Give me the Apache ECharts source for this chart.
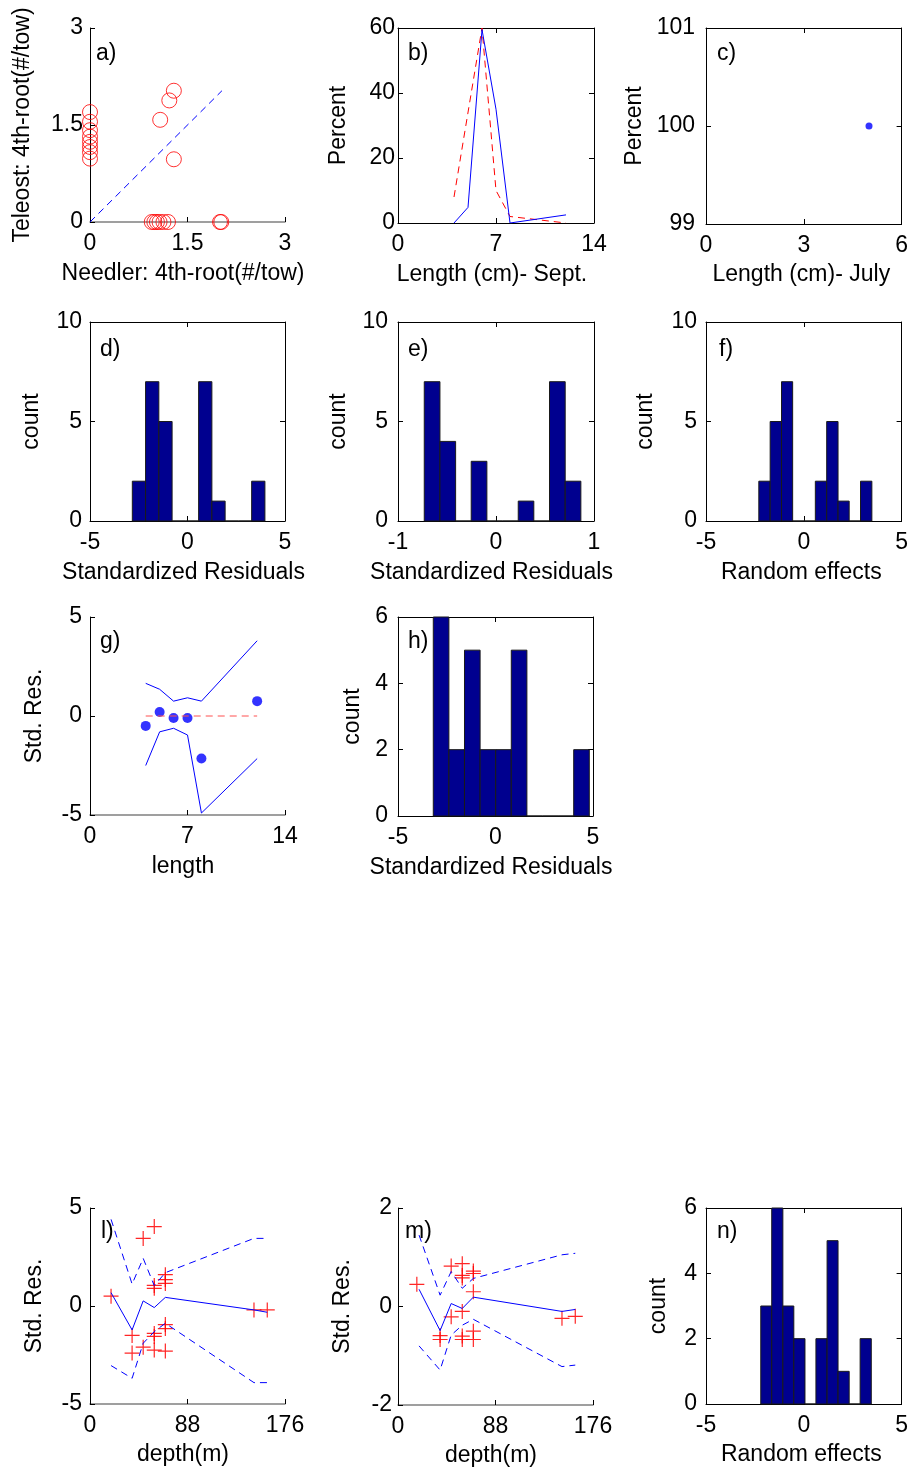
<!DOCTYPE html>
<html>
<head>
<meta charset="utf-8">
<script src="https://cdn.jsdelivr.net/npm/echarts@6/dist/echarts.min.js"></script>
<style>
  html, body { margin: 0; padding: 0; background: #fff; }
  #chart { width: 911px; height: 1470px; }
</style>
</head>
<body>
<div id="chart"></div>
<script>
// ---------- a) needler vs teleost abundance (4th-root of catch per tow) ----------
const aNeedler = [0, 0, 0, 0, 0, 0, 0, 0, 1.08, 1.22, 1.29, 1.29, 0.95, 0.99, 1.03, 1.07, 1.13, 1.2, 2.0, 2.02];
const aTeleost = [1.7, 1.55, 1.42, 1.32, 1.24, 1.16, 1.08, 0.98, 1.58, 1.88, 2.03, 0.97, 0, 0, 0, 0, 0, 0, 0, 0];
const aOneToOne = [0, 2.03];

// ---------- b) length frequency, September ----------
const bLenBlue = [4, 5, 6, 7, 8, 12];
const bPctBlue = [0, 4.8, 59.5, 35, 0, 2.5];
const bLenRed = [4, 6, 7, 8, 12];
const bPctRed = [8, 60, 10, 2, 0];

// ---------- c) length frequency, July ----------
const cLen = [5];
const cPct = [100];

// ---------- d, e, f, h, n) histograms: bin edges and counts ----------
const dEdges = [-2.83, -2.15, -1.47, -0.79, -0.11, 0.57, 1.25, 1.93, 2.61, 3.29, 3.97];
const dCounts = [2, 7, 5, 0, 0, 7, 1, 0, 0, 2];
const eEdges = [-0.732, -0.572, -0.412, -0.253, -0.093, 0.067, 0.227, 0.386, 0.546, 0.706, 0.866];
const eCounts = [7, 4, 0, 3, 0, 0, 1, 0, 7, 2];
const fEdges = [-2.30, -1.72, -1.14, -0.57, 0.01, 0.59, 1.17, 1.75, 2.32, 2.90, 3.48];
const fCounts = [2, 5, 7, 0, 0, 2, 5, 1, 0, 2];
const hEdges = [-3.19, -2.39, -1.59, -0.79, 0.01, 0.81, 1.61, 2.41, 3.21, 4.01, 4.81];
const hCounts = [6, 2, 5, 2, 2, 5, 0, 0, 0, 2];
const nEdges = [-2.20, -1.64, -1.07, -0.51, 0.06, 0.62, 1.19, 1.75, 2.32, 2.88, 3.45];
const nCounts = [3, 6, 3, 2, 0, 2, 5, 1, 0, 2];

// ---------- g) standardized residuals by length ----------
const gLen = [4, 5, 6, 7, 8, 12];
const gRes = [-0.5, 0.2, -0.1, -0.1, -2.15, 0.75];
const gUpper = [1.65, 1.35, 0.75, 0.92, 0.75, 3.8];
const gLower = [-2.5, -0.8, -0.62, -0.96, -4.9, -2.15];
const gZeroLen = [4, 12];

// ---------- l, m) standardized residuals by depth ----------
const depthLine = [19, 38, 48, 58, 68, 148, 160];
const lMid = [0.68, -1.22, 0.26, -0.08, 0.44, -0.2, -0.32];
const lUpper = [4.42, 1.12, 2.43, 1.04, 1.7, 3.45, 3.45];
const lLower = [-3.04, -3.69, -1.9, -1.31, -0.88, -3.91, -3.91];
const lDepth = [19, 38, 38, 48, 48, 58, 58, 58, 58, 58, 58, 68, 68, 68, 68, 68, 68, 148, 160];
const lRes = [0.5, -1.5, -2.4, 3.45, -2.1, 4.05, 1.05, 0.9, -1.4, -1.55, -2.25, 1.6, 1.35, 1.15, -0.95, -1.15, -2.3, -0.2, -0.2];

const mMid = [0.35, -0.49, 0.06, -0.04, 0.19, -0.1, -0.06];
const mUpper = [1.45, 0.23, 0.71, 0.37, 0.57, 1.05, 1.08];
const mLower = [-0.8, -1.29, -0.58, -0.38, -0.26, -1.22, -1.19];
const mDepth = [17, 38, 38, 48, 48, 58, 58, 58, 58, 58, 58, 68, 68, 68, 68, 68, 148, 160];
const mRes = [0.45, -0.59, -0.67, 0.82, -0.21, 0.87, 0.63, 0.58, -0.1, -0.6, -0.67, 0.72, 0.67, 0.3, -0.5, -0.67, -0.24, -0.2];

// ---------- styling ----------
const FONT = '"Liberation Sans", Arial, Helvetica, sans-serif';
const FS = 23;
const BLUE = '#0000ff';
const RED = '#ff0000';
const NAVY = '#00008f';
const PLUS = 'path://M5,0L5,10M0,5L10,5';

const option = {
  animation: false,
  backgroundColor: '#ffffff',
  grid: [], xAxis: [], yAxis: [], series: [], graphic: []
};

const textStyle = { color: '#000', fontSize: FS, fontFamily: FONT };

function addPanel(p) {
  const gi = option.grid.length;
  option.grid.push({ left: p.box[0], top: p.box[1], width: p.box[2], height: p.box[3], show: false });
  const xi = option.xAxis.length;
  const yi = option.yAxis.length;
  const bottomLine = p.boxed ? { color: '#000', width: 1 } : { color: '#808080', width: 1.5 };
  option.xAxis.push({
    gridIndex: gi, type: 'value', position: 'bottom',
    min: p.x[0], max: p.x[1], interval: p.x[2],
    axisLine: { show: true, onZero: false, lineStyle: bottomLine },
    axisTick: { show: true, inside: true, length: 5, lineStyle: { color: '#000' } },
    axisLabel: Object.assign({ show: true, margin: 10 }, textStyle),
    splitLine: { show: false },
    name: p.xName, nameLocation: 'middle', nameGap: p.xGap, nameMoveOverlap: false,
    nameTextStyle: Object.assign({ padding: [0, p.xShift || 7, 0, 0] }, textStyle)
  });
  option.yAxis.push({
    gridIndex: gi, type: 'value', position: 'left',
    min: p.y[0], max: p.y[1], interval: p.y[2],
    axisLine: { show: true, onZero: false, lineStyle: { color: '#000', width: 1 } },
    axisTick: { show: true, inside: true, length: 5, lineStyle: { color: '#000' } },
    axisLabel: Object.assign({ show: true, margin: p.yMargin }, textStyle),
    splitLine: { show: false },
    name: p.yName, nameLocation: 'middle', nameGap: p.yGap, nameRotate: 90, nameMoveOverlap: false,
    nameTextStyle: textStyle
  });
  if (p.boxed) {
    option.xAxis.push({
      gridIndex: gi, type: 'value', position: 'top',
      min: p.x[0], max: p.x[1], interval: p.x[2],
      axisLine: { show: true, onZero: false, lineStyle: { color: '#000', width: 1 } },
      axisTick: { show: true, inside: true, length: 5, lineStyle: { color: '#000' } },
      axisLabel: { show: false }, splitLine: { show: false }
    });
    option.yAxis.push({
      gridIndex: gi, type: 'value', position: 'right',
      min: p.y[0], max: p.y[1], interval: p.y[2],
      axisLine: { show: true, onZero: false, lineStyle: { color: '#000', width: 1 } },
      axisTick: { show: true, inside: true, length: 5, lineStyle: { color: '#000' } },
      axisLabel: { show: false }, splitLine: { show: false }
    });
  }
  option.graphic.push({
    type: 'text', x: p.tag[1], y: p.tag[2], z: 100,
    style: { text: p.tag[0], fontSize: FS, fontFamily: FONT, fill: '#000', verticalAlign: 'middle' }
  });
  return { xi, yi };
}

function zip(xs, ys) { return xs.map((x, i) => [x, ys[i]]); }

function lineSeries(ax, xs, ys, color, dashed, width) {
  return {
    type: 'line', xAxisIndex: ax.xi, yAxisIndex: ax.yi, data: zip(xs, ys),
    showSymbol: false, symbol: 'none', silent: true,
    lineStyle: { color: color, width: width || 1, type: dashed ? [7, 5] : 'solid' }
  };
}

function histSeries(ax, edges, counts) {
  return {
    type: 'custom', xAxisIndex: ax.xi, yAxisIndex: ax.yi, silent: true,
    data: counts.map((c, i) => [edges[i], edges[i + 1], c]),
    encode: { x: [0, 1], y: 2 },
    renderItem: function (params, api) {
      const top = api.coord([api.value(0), api.value(2)]);
      const base = api.coord([api.value(1), 0]);
      return {
        type: 'rect',
        shape: { x: top[0], y: top[1], width: base[0] - top[0], height: base[1] - top[1] },
        style: { fill: NAVY, stroke: '#1a1a1a', lineWidth: 1 }
      };
    }
  };
}

// ---- a) ----
const pa = addPanel({
  box: [90, 28, 195, 194], boxed: false, x: [0, 3, 1.5], y: [0, 3, 1.5],
  xName: 'Needler: 4th-root(#/tow)', xGap: 40, xShift: 9,
  yName: 'Teleost: 4th-root(#/tow)', yGap: 56, yMargin: 7, tag: ['a)', 96, 54]
});
option.series.push(lineSeries(pa, aOneToOne, aOneToOne, BLUE, true));
option.series.push({
  type: 'scatter', xAxisIndex: pa.xi, yAxisIndex: pa.yi, data: zip(aNeedler, aTeleost),
  symbol: 'circle', symbolSize: 15, silent: true,
  itemStyle: { color: 'rgba(0,0,0,0)', borderColor: RED, borderWidth: 1 }
});

// ---- b) ----
const pb = addPanel({
  box: [398, 28, 196, 195], boxed: true, x: [0, 14, 7], y: [0, 60, 20],
  xName: 'Length (cm)- Sept.', xGap: 40, xShift: 8,
  yName: 'Percent', yGap: 48, yMargin: 3, tag: ['b)', 408, 54]
});
option.series.push(lineSeries(pb, bLenRed, bPctRed, RED, true));
option.series.push(lineSeries(pb, bLenBlue, bPctBlue, BLUE, false));

// ---- c) ----
const pc = addPanel({
  box: [706, 28, 197, 196], boxed: true, x: [0, 6, 3], y: [99, 101, 1],
  xName: 'Length (cm)- July', xGap: 39, xShift: 5,
  yName: 'Percent', yGap: 60, yMargin: 11, tag: ['c)', 717, 54]
});
option.series.push({
  type: 'scatter', xAxisIndex: pc.xi, yAxisIndex: pc.yi, data: zip(cLen, cPct),
  symbol: 'circle', symbolSize: 7, silent: true, itemStyle: { color: BLUE }
});

// ---- d) ----
const pd = addPanel({
  box: [90, 322, 195, 199], boxed: true, x: [-5, 5, 5], y: [0, 10, 5],
  xName: 'Standardized Residuals', xGap: 40, xShift: 8,
  yName: 'count', yGap: 47, yMargin: 8, tag: ['d)', 100, 350]
});
option.series.push(histSeries(pd, dEdges, dCounts));

// ---- e) ----
const pe = addPanel({
  box: [398, 322, 196, 199], boxed: true, x: [-1, 1, 1], y: [0, 10, 5],
  xName: 'Standardized Residuals', xGap: 40, xShift: 9,
  yName: 'count', yGap: 48, yMargin: 10, tag: ['e)', 408, 350]
});
option.series.push(histSeries(pe, eEdges, eCounts));

// ---- f) ----
const pf = addPanel({
  box: [706, 322, 197, 199], boxed: true, x: [-5, 5, 5], y: [0, 10, 5],
  xName: 'Random effects', xGap: 40, xShift: 5,
  yName: 'count', yGap: 49, yMargin: 9, tag: ['f)', 719, 350]
});
option.series.push(histSeries(pf, fEdges, fCounts));

// ---- g) ----
const pg = addPanel({
  box: [90, 617, 195, 198], boxed: false, x: [0, 14, 7], y: [-5, 5, 5],
  xName: 'length', xGap: 40, xShift: 9,
  yName: 'Std. Res.', yGap: 44, yMargin: 8, tag: ['g)', 100, 642]
});
option.series.push(lineSeries(pg, gLen, gUpper, BLUE, false));
option.series.push(lineSeries(pg, gLen, gLower, BLUE, false));
option.series.push(lineSeries(pg, gZeroLen, [0, 0], '#ff5050', true));
option.series.push({
  type: 'scatter', xAxisIndex: pg.xi, yAxisIndex: pg.yi, data: zip(gLen, gRes),
  symbol: 'circle', symbolSize: 10, silent: true, itemStyle: { color: BLUE }
});

// ---- h) ----
const ph = addPanel({
  box: [398, 617, 195, 199], boxed: true, x: [-5, 5, 5], y: [0, 6, 2],
  xName: 'Standardized Residuals', xGap: 40, xShift: 9,
  yName: 'count', yGap: 34, yMargin: 10, tag: ['h)', 408, 642]
});
option.series.push(histSeries(ph, hEdges, hCounts));

// ---- l) ----
const pl = addPanel({
  box: [90, 1208, 195, 196], boxed: false, x: [0, 176, 88], y: [-5, 5, 5],
  xName: 'depth(m)', xGap: 39, xShift: 9,
  yName: 'Std. Res.', yGap: 44, yMargin: 8, tag: ['l)', 101, 1232]
});
option.series.push(lineSeries(pl, depthLine, lUpper, BLUE, true));
option.series.push(lineSeries(pl, depthLine, lLower, BLUE, true));
option.series.push(lineSeries(pl, depthLine, lMid, BLUE, false));
option.series.push({
  type: 'scatter', xAxisIndex: pl.xi, yAxisIndex: pl.yi, data: zip(lDepth, lRes),
  symbol: PLUS, symbolSize: 15, silent: true,
  itemStyle: { color: 'rgba(0,0,0,0)', borderColor: RED, borderWidth: 1.2, opacity: 0.85 }
});

// ---- m) ----
const pm = addPanel({
  box: [398, 1208, 195, 197], boxed: false, x: [0, 176, 88], y: [-2, 2, 2],
  xName: 'depth(m)', xGap: 39, xShift: 9,
  yName: 'Std. Res.', yGap: 44, yMargin: 6, tag: ['m)', 405, 1232]
});
option.series.push(lineSeries(pm, depthLine, mUpper, BLUE, true));
option.series.push(lineSeries(pm, depthLine, mLower, BLUE, true));
option.series.push(lineSeries(pm, depthLine, mMid, BLUE, false));
option.series.push({
  type: 'scatter', xAxisIndex: pm.xi, yAxisIndex: pm.yi, data: zip(mDepth, mRes),
  symbol: PLUS, symbolSize: 15, silent: true,
  itemStyle: { color: 'rgba(0,0,0,0)', borderColor: RED, borderWidth: 1.2, opacity: 0.85 }
});

// ---- n) ----
const pn = addPanel({
  box: [706, 1208, 197, 196], boxed: true, x: [-5, 5, 5], y: [0, 6, 2],
  xName: 'Random effects', xGap: 39, xShift: 5,
  yName: 'count', yGap: 36, yMargin: 9, tag: ['n)', 717, 1232]
});
option.series.push(histSeries(pn, nEdges, nCounts));

const chart = echarts.init(document.getElementById('chart'), null, { renderer: 'canvas' });
chart.setOption(option);
</script>
</body>
</html>
